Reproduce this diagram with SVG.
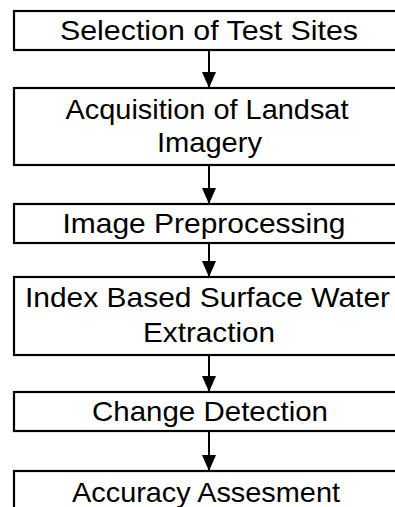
<svg xmlns="http://www.w3.org/2000/svg" width="395" height="507" viewBox="0 0 395 507">
<style>
.box{fill:#fff;stroke:#000;stroke-width:2.2}
.t{font-family:"Liberation Sans",Arial,sans-serif;font-size:28px;fill:#000;text-anchor:middle}
.c{stroke:#000;stroke-width:2;fill:none}
</style>
<defs>
<marker id="arr" markerUnits="userSpaceOnUse" markerWidth="16" markerHeight="14" refX="16" refY="7" orient="auto" viewBox="0 0 16 14">
<path d="M0,0 L16,7 L0,14 Z" fill="#000"/>
</marker>
</defs>
<g id="connectors">
<line class="c" x1="209" y1="50" x2="209" y2="88" marker-end="url(#arr)"/>
<line class="c" x1="209" y1="165" x2="209" y2="204" marker-end="url(#arr)"/>
<line class="c" x1="209" y1="243" x2="209" y2="277" marker-end="url(#arr)"/>
<line class="c" x1="209" y1="355" x2="209" y2="392" marker-end="url(#arr)"/>
<line class="c" x1="209" y1="431" x2="209" y2="471" marker-end="url(#arr)"/>
</g>
<g id="n1">
<rect class="box" x="14" y="11" width="392" height="39"/>
<text class="t" x="209" y="40" textLength="298" lengthAdjust="spacingAndGlyphs">Selection of Test Sites</text>
</g>
<g id="n2">
<rect class="box" x="14" y="88" width="392" height="77"/>
<text class="t" x="207" y="118.5" textLength="283" lengthAdjust="spacingAndGlyphs">Acquisition of Landsat</text>
<text class="t" x="209.5" y="151.5" textLength="105" lengthAdjust="spacingAndGlyphs">Imagery</text>
</g>
<g id="n3">
<rect class="box" x="14" y="204" width="392" height="39"/>
<text class="t" x="204" y="232.5" textLength="283" lengthAdjust="spacingAndGlyphs">Image Preprocessing</text>
</g>
<g id="n4">
<rect class="box" x="14" y="277" width="392" height="78"/>
<text class="t" x="207.5" y="306.5" textLength="365" lengthAdjust="spacingAndGlyphs">Index Based Surface Water</text>
<text class="t" x="209" y="342" textLength="132" lengthAdjust="spacingAndGlyphs">Extraction</text>
</g>
<g id="n5">
<rect class="box" x="14" y="392" width="392" height="39"/>
<text class="t" x="210" y="420.5" textLength="236" lengthAdjust="spacingAndGlyphs">Change Detection</text>
</g>
<g id="n6">
<rect class="box" x="14" y="471" width="392" height="45"/>
<text class="t" x="206" y="502" textLength="268" lengthAdjust="spacingAndGlyphs">Accuracy Assesment</text>
</g>
</svg>
